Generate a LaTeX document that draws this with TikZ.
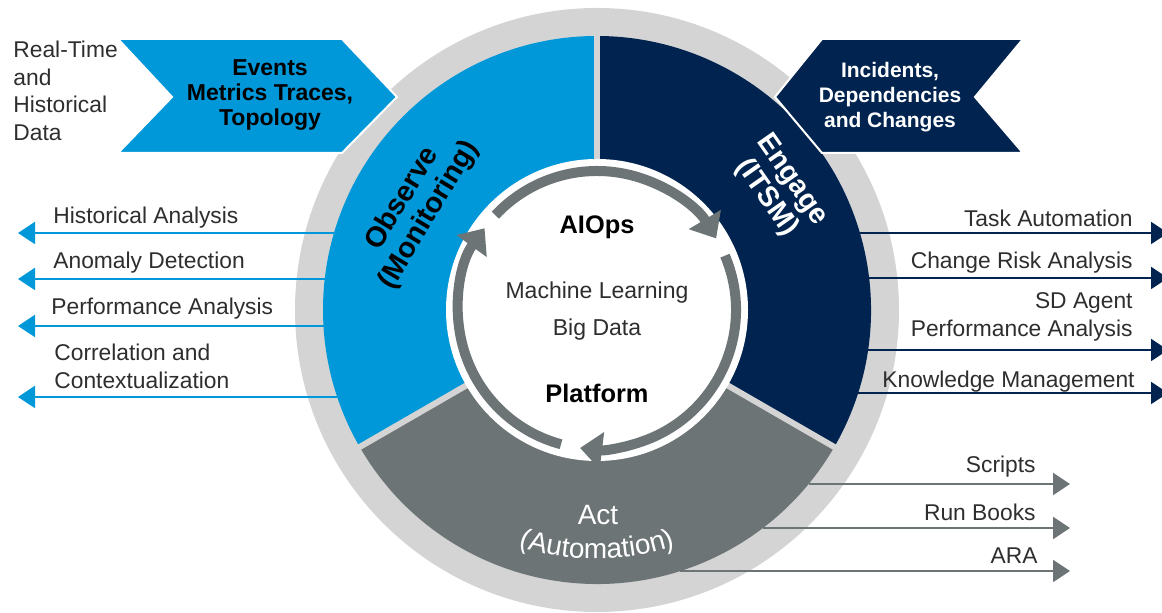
\documentclass[tikz,border=0pt]{standalone}
\usepackage{fontspec}
\setmainfont{Liberation Sans}
\usetikzlibrary{positioning,calc,arrows.meta,decorations.text}

\definecolor{obsblue}{HTML}{0098D8}
\definecolor{itsmnavy}{HTML}{00244F}
\definecolor{actgray}{HTML}{6C7476}
\definecolor{ringgray}{HTML}{D4D4D4}
\definecolor{labelgray}{HTML}{2E2E2E}

\begin{document}
\begin{tikzpicture}[x=0.5pt, y=0.5pt,
% Node styles
 sidelabel/.style={font=\fontsize{11.4}{14}\selectfont, text=labelgray, inner sep=0pt},
 chevtext/.style={font=\bfseries\fontsize{11.5}{12.5}\selectfont, align=center, inner sep=0pt},
 segtext/.style={font=\bfseries\fontsize{14.3}{15.5}\selectfont, align=center, inner sep=0pt},
 coretext/.style={font=\fontsize{11.5}{14}\selectfont, text=labelgray, inner sep=0pt},
 corebold/.style={font=\bfseries\fontsize{12.7}{14}\selectfont, text=black, inner sep=0pt},
% Edge styles
 outarrow/.style={draw, line width=1pt, -{Triangle[length=8.5pt, width=11pt]}},
 cyclearrow/.style={draw=actgray, line width=5pt, -{Triangle[length=11pt, width=18pt]}},
 gapline/.style={draw=ringgray, line width=3pt}
]
\useasboundingbox (0,0) rectangle (1162,613);
% Centre of the wheel
\coordinate (c) at (597,303);
% Outer ring and the three segments
\fill[ringgray] (c) circle[radius=302];
\fill[obsblue] (c) -- ++(90:274) arc[start angle=90, end angle=210, radius=274] -- cycle;
\fill[itsmnavy] (c) -- ++(-30:274) arc[start angle=-30, end angle=90, radius=274] -- cycle;
\fill[actgray] (c) -- ++(210:274) arc[start angle=210, end angle=330, radius=274] -- cycle;
\foreach \ang in {90,210,330}
  \draw[gapline] (c) -- ++(\ang:276);
\fill[white] (c) circle[radius=151];
% Inner cycle arrows
\coordinate (cyc1) at ($(c)+(137:139)$);
\coordinate (cyc2) at ($(c)+(23:139)$);
\coordinate (cyc3) at ($(c)+(-105:139)$);
\draw[cyclearrow] (cyc1) arc[start angle=137, end angle=31, radius=139];
\draw[cyclearrow] (cyc2) arc[start angle=23, end angle=-97, radius=139];
\draw[cyclearrow] (cyc3) arc[start angle=-105, end angle=-216, radius=139];
% Core texts
\node[corebold] (aiops) at (597,386) {AIOps};
\node[coretext] (ml) at (597,320) {Machine Learning};
\node[coretext] (bigdata) at (597,283) {Big Data};
\node[corebold] (platform) at (597,220) {Platform};
% Segment labels
\node[segtext, rotate=59] (observe) at (416,406) {Observe\\(Monitoring)};
\node[segtext, rotate=-55, text=white] (engage) at (779,424) {Engage\\(ITSM)};
\node[font=\fontsize{14}{16}\selectfont, text=white] (act) at (598,98) {Act};
\path[decorate, decoration={text along path, text align=center, text color=white,
  text={|\fontsize{14}{16}\selectfont|(Automation)}}]
  ($(c)+(237:249)$) arc[start angle=237, end angle=303, radius=249];
% Input chevrons
\draw[white, line width=1pt, fill=obsblue] (118,574) -- (342,574) -- (397,516) -- (342,460) -- (118,460) -- (172,516) -- cycle;
\draw[white, line width=1pt, fill=itsmnavy] (822,574) -- (1023,574) -- (975,516) -- (1023,460) -- (822,460) -- (775,516) -- cycle;
\node[chevtext] (feeds) at (270,518) {Events\\Metrics Traces,\\Topology};
\node[chevtext, text=white, font=\bfseries\fontsize{10.5}{12.5}\selectfont] (itsmfeed) at (890,516) {Incidents,\\Dependencies\\and Changes};
\node[sidelabel, anchor=west, align=left, font=\fontsize{11.4}{13.75}\selectfont] (rtdata) at (13,522) {Real-Time\\and\\Historical\\Data};
% Left outputs (monitoring)
\coordinate (histS) at (334,380); \coordinate (histE) at (18,380);
\coordinate (anomS) at (325,334); \coordinate (anomE) at (18,334);
\coordinate (perfS) at (324,287); \coordinate (perfE) at (18,287);
\coordinate (corrS) at (337,216); \coordinate (corrE) at (18,216);
\draw[outarrow, obsblue] (histS) -- (histE);
\draw[outarrow, obsblue] (anomS) -- (anomE);
\draw[outarrow, obsblue] (perfS) -- (perfE);
\draw[outarrow, obsblue] (corrS) -- (corrE);
\node[sidelabel, anchor=west] (hist) at (53,395) {Historical Analysis};
\node[sidelabel, anchor=west] (anom) at (53,350) {Anomaly Detection};
\node[sidelabel, anchor=west] (perf) at (51,304) {Performance Analysis};
\node[sidelabel, anchor=west, align=left] (corr) at (54,247) {Correlation and\\Contextualization};
% Right outputs (ITSM)
\coordinate (taskS) at (860,380); \coordinate (taskE) at (1168,380);
\coordinate (riskS) at (869,335); \coordinate (riskE) at (1168,335);
\coordinate (sdS) at (868,263); \coordinate (sdE) at (1168,263);
\coordinate (knowS) at (858,220); \coordinate (knowE) at (1168,220);
\draw[outarrow, itsmnavy] (taskS) -- (taskE);
\draw[outarrow, itsmnavy] (riskS) -- (riskE);
\draw[outarrow, itsmnavy] (sdS) -- (sdE);
\draw[outarrow, itsmnavy] (knowS) -- (knowE);
\node[sidelabel, anchor=east] (task) at (1133,395) {Task Automation};
\node[sidelabel, anchor=east] (risk) at (1133,350) {Change Risk Analysis};
\node[sidelabel, anchor=east, align=right] (sd) at (1133,296) {SD Agent\\Performance Analysis};
\node[sidelabel, anchor=east] (know) at (1135,231) {Knowledge Management};
% Bottom outputs (automation)
\coordinate (scrS) at (809,129); \coordinate (scrE) at (1070,129);
\coordinate (runS) at (763,85); \coordinate (runE) at (1070,85);
\coordinate (araS) at (680,42); \coordinate (araE) at (1070,42);
\draw[outarrow, actgray] (scrS) -- (scrE);
\draw[outarrow, actgray] (runS) -- (runE);
\draw[outarrow, actgray] (araS) -- (araE);
\node[sidelabel, anchor=east] (scr) at (1036,146) {Scripts};
\node[sidelabel, anchor=east] (run) at (1036,101) {Run Books};
\node[sidelabel, anchor=east] (ara) at (1038,57) {ARA};
\end{tikzpicture}
\end{document}
